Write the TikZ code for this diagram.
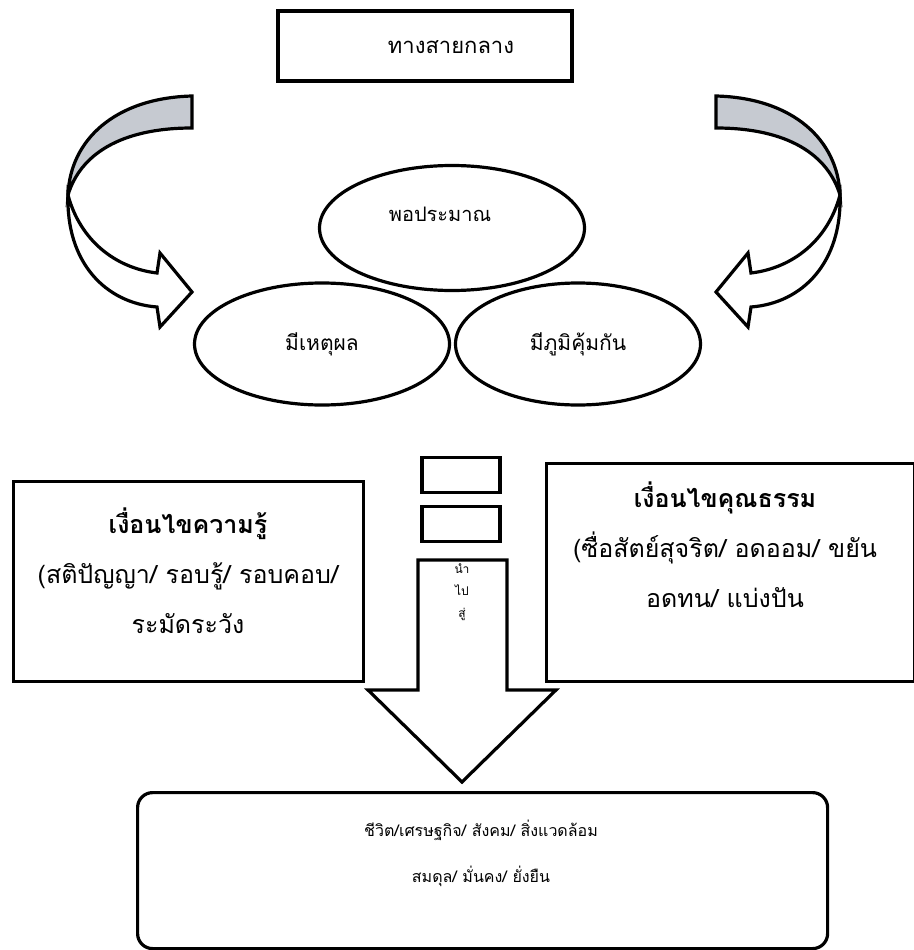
\documentclass[tikz,border=0pt]{standalone}
\usepackage{fontspec}
\newfontfamily\thaifont[Script=Thai]{Loma}
\usetikzlibrary{positioning,shapes.geometric}
\definecolor{bandgray}{RGB}{198,202,209}

% one bent block arrow, the right one is its mirror image
\newcommand\bentarrow{%
	\draw[fill=bandgray] (192,96) .. controls (115,98) and (70,140) .. (68,195)
		.. controls (80,155) and (120,128) .. (192,128) -- cycle;
	\draw[fill=white] (68,195) .. controls (80,240) and (115,268) .. (157,273)
		-- (160,253) -- (192,292) -- (160,327) -- (157,307)
		.. controls (105,303) and (66,262) .. (68,195) -- cycle;}

\begin{document}
\begin{tikzpicture}[x=1pt,y=-1pt,line width=3.2pt,
	every node/.style={font=\thaifont},
	box/.style={draw,rectangle,line width=3.2pt,inner sep=0pt},
	oval/.style={draw,ellipse,line width=3.2pt,inner sep=0pt,
		font=\thaifont\fontsize{21}{24}\selectfont},
	bigtext/.style={align=center,font=\thaifont\fontsize{25}{50}\selectfont},
	smalltext/.style={align=center,font=\thaifont\fontsize{16}{46}\selectfont}]
	\useasboundingbox (0,0) rectangle (913,950);

	% create the nodes.
	\node (middle) [box,minimum width=294,minimum height=70] at (425,46) {};
	\node (middletext) [font=\thaifont\fontsize{22}{26}\selectfont] at (451,47) {ทางสายกลาง};
	\node (enough) [oval,minimum width=265,minimum height=125] at (452,228) {};
	\node (enoughtext) [font=\thaifont\fontsize{20}{24}\selectfont] at (440,214) {พอประมาณ};
	\node (reason) [oval,minimum width=255,minimum height=122] at (322,344) {มีเหตุผล};
	\node (immune) [oval,minimum width=245,minimum height=122] at (578,344) {มีภูมิคุ้มกัน};
	\node (slota) [box,minimum width=78,minimum height=35] at (461,475) {};
	\node (slotb) [box,minimum width=78,minimum height=35] at (461,524) {};
	\node (knowledge) [box,minimum width=350,minimum height=200,anchor=north west] at (12,480) {};
	\node (knowtext) [bigtext] at (188,571)
		{\textbf{เงื่อนไขความรู้}\\(สติปัญญา/ รอบรู้/ รอบคอบ/\\ระมัดระวัง};
	\node (virtue) [box,minimum width=368,minimum height=218,anchor=north west] at (545,462) {};
	\node (virtuetext) [bigtext] at (725,545)
		{\textbf{เงื่อนไขคุณธรรม}\\(ซื่อสัตย์สุจริต/ อดออม/ ขยัน\\อดทน/ แบ่งปัน};
	\node (result) [box,rounded corners=15,minimum width=690,minimum height=156,
		anchor=north west] at (136,791) {};
	\node (resulttext) [smalltext] at (481,853)
		{ชีวิต/เศรษฐกิจ/ สังคม/ สิ่งแวดล้อม\\สมดุล/ มั่นคง/ ยั่งยืน};

	% draw the arrows
	\bentarrow
	\begin{scope}[xshift=908pt,xscale=-1]
		\bentarrow
	\end{scope}
	\draw[fill=white] (418,560) -- (507,560) -- (507,690) -- (556,690)
		-- (462,782) -- (368,690) -- (418,690) -- cycle;
	\node (leads) [align=center,font=\thaifont\fontsize{12}{22}\selectfont]
		at (462,592) {นำ\\ไป\\สู่};
\end{tikzpicture}
\end{document}
